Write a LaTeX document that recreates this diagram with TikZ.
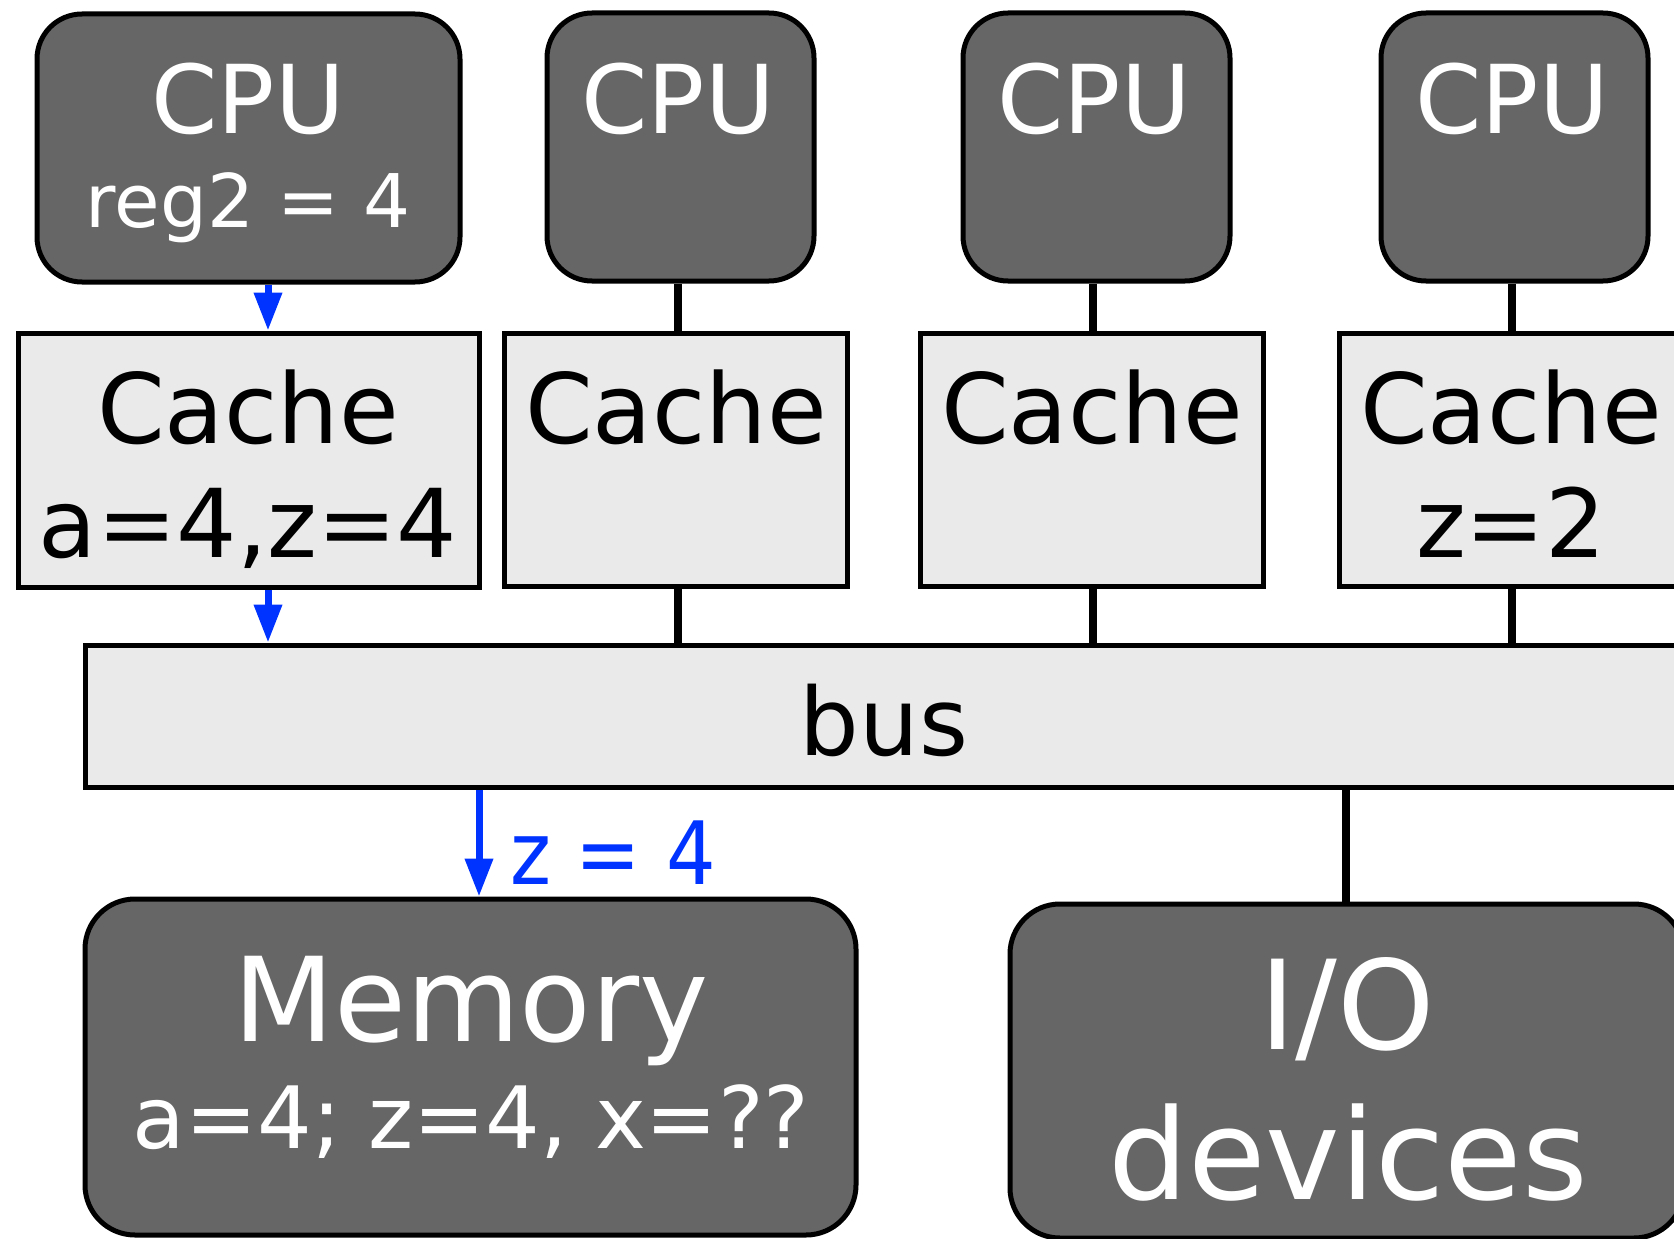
\documentclass[tikz,border=0pt]{standalone}
\usepackage{fontspec}
\setmainfont{DejaVu Sans}
\usetikzlibrary{arrows.meta}
\definecolor{darkbox}{RGB}{102,102,102}
\definecolor{lightbox}{RGB}{234,234,234}
\definecolor{bluearrow}{RGB}{0,51,255}
\newcommand\fsz[1]{\fontsize{#1}{#1}\selectfont}
\tikzset{
  darkrounded/.style={draw=black, line width=5pt, fill=darkbox, rounded corners=45pt, inner sep=0pt},
  lightrect/.style={draw=black, line width=5pt, fill=lightbox, inner sep=0pt},
  wire/.style={draw=black, line width=8pt},
  bluewire/.style={draw=bluearrow, line width=7pt, -{Triangle[length=38pt,width=27pt]}},
  whitetxt/.style={text=white, anchor=base, inner sep=0pt},
  blacktxt/.style={text=black, anchor=base, inner sep=0pt},
}
\begin{document}
\begin{tikzpicture}[x=1pt,y=-1pt]
\useasboundingbox (0,0) rectangle (1674,1239);
\clip (0,0) rectangle (1674,1239);
\fill[white] (0,0) rectangle (1674,1239);
% CPUs
\node[darkrounded, minimum width=423pt, minimum height=268pt] (cpu1) at (248.5,148) {};
\node[darkrounded, minimum width=267pt, minimum height=268pt] (cpu2) at (680.5,147) {};
\node[darkrounded, minimum width=267pt, minimum height=268pt] (cpu3) at (1096.5,147) {};
\node[darkrounded, minimum width=267pt, minimum height=268pt] (cpu4) at (1514.5,147) {};
% caches
\node[lightrect, minimum width=461pt, minimum height=254pt] (cache1) at (248.5,460) {};
\node[lightrect, minimum width=343pt, minimum height=253pt] (cache2) at (675.5,459.5) {};
\node[lightrect, minimum width=343pt, minimum height=253pt] (cache3) at (1091.5,459.5) {};
\node[lightrect, minimum width=343pt, minimum height=253pt] (cache4) at (1510.5,459.5) {};
% bus
\node[lightrect, minimum width=1598pt, minimum height=142pt] (bus) at (884,716) {};
% memory and io
\node[darkrounded, rounded corners=50pt, minimum width=771pt, minimum height=336pt] (mem) at (470.5,1067) {};
\node[darkrounded, rounded corners=50pt, minimum width=674pt, minimum height=334pt] (io) at (1347,1071) {};
% black connectors
\coordinate (w2) at (677.5,0);
\coordinate (w3) at (1093,0);
\coordinate (w4) at (1511.5,0);
\coordinate (wi) at (1346,0);
\draw[wire] (cpu2.south -| w2) -- (cache2.north -| w2);
\draw[wire] (cpu3.south -| w3) -- (cache3.north -| w3);
\draw[wire] (cpu4.south -| w4) -- (cache4.north -| w4);
\draw[wire] (cache2.south -| w2) -- (bus.north -| w2);
\draw[wire] (cache3.south -| w3) -- (bus.north -| w3);
\draw[wire] (cache4.south -| w4) -- (bus.north -| w4);
\draw[wire] (bus.south -| wi) -- (io.north -| wi);
% blue arrows
\coordinate (ax) at (268,0);
\coordinate (mx) at (479,0);
\draw[bluewire] (cpu1.south -| ax) -- (cache1.north -| ax);
\draw[bluewire] (cache1.south -| ax) -- (bus.north -| ax);
\draw[bluewire] (bus.south -| mx) -- (mem.north -| mx);
% texts
\node[whitetxt] (t1) at (248,133) {\fsz{95}CPU};
\node[whitetxt] (t1b) at (248,227) {\fsz{74}reg2 = 4};
\node[whitetxt] (t2) at (678,133) {\fsz{95}CPU};
\node[whitetxt] (t3) at (1094,133) {\fsz{95}CPU};
\node[whitetxt] (t4) at (1512,133) {\fsz{95}CPU};
\node[blacktxt] (c1) at (248,443) {\fsz{97}Cache};
\node[blacktxt] (c1b) at (248,557) {\fsz{95}a=4,z=4};
\node[blacktxt] (c2) at (676,443) {\fsz{97}Cache};
\node[blacktxt] (c3) at (1092,443) {\fsz{97}Cache};
\node[blacktxt] (c4) at (1511,443) {\fsz{97}Cache};
\node[blacktxt] (c4b) at (1511,557) {\fsz{95}z=2};
\node[blacktxt] (bt) at (884,755) {\fsz{94}bus};
\node[text=bluearrow, anchor=base west, inner sep=0pt] (zt) at (510,884) {\fsz{78}\scalebox{1}[1.12]{z = 4}};
\node[whitetxt] (mt) at (471,1041) {\fsz{117}Memory};
\node[whitetxt] (mtb) at (471,1148) {\fsz{86}a=4; z=4, x=??};
\node[whitetxt] (it) at (1347,1049) {\fsz{124}I/O};
\node[whitetxt] (itb) at (1348,1199) {\fsz{126}devices};
\end{tikzpicture}
\end{document}
